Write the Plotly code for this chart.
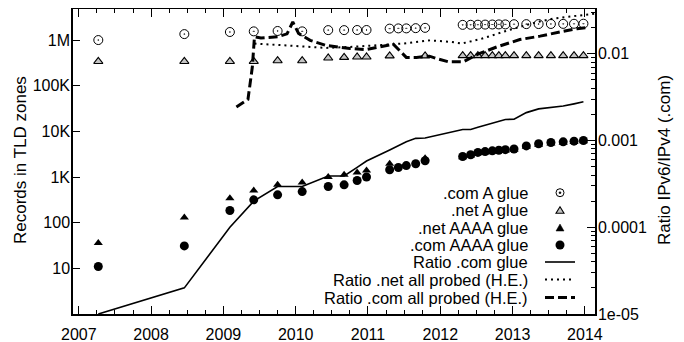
import plotly.graph_objects as go

# ---------------- data ----------------
d_com = [2007.27, 2008.46, 2009.09, 2009.42, 2009.75, 2010.09, 2010.45, 2010.67, 2010.85, 2010.98,
         2011.30, 2011.42, 2011.53, 2011.66, 2011.79, 2012.31, 2012.42, 2012.52, 2012.62, 2012.72,
         2012.81, 2012.90, 2013.02, 2013.19, 2013.36, 2013.53, 2013.70, 2013.85, 2013.98]
com_a_glue = [1.0e6, 1.35e6, 1.5e6, 1.55e6, 1.58e6, 1.55e6, 1.65e6, 1.65e6, 1.66e6, 1.66e6,
              1.78e6, 1.8e6, 1.8e6, 1.82e6, 1.85e6, 2.15e6, 2.16e6, 2.17e6, 2.18e6, 2.19e6,
              2.2e6, 2.2e6, 2.22e6, 2.23e6, 2.24e6, 2.25e6, 2.26e6, 2.27e6, 2.28e6]
com_aaaa_glue = [11, 31, 185, 316, 407, 480, 620, 675, 840, 1000,
                 1440, 1620, 1780, 1950, 2270, 2820, 3080, 3460, 3610, 3750,
                 3850, 3970, 4100, 4800, 5350, 5700, 5900, 6100, 6300]
ratio_com_glue = [1.0e-5, 2.0e-5, 1.0e-4, 2.0e-4, 2.95e-4, 2.95e-4, 3.9e-4, 3.9e-4, 4.9e-4, 5.8e-4,
                  7.8e-4, 8.8e-4, 9.7e-4, 1.06e-3, 1.07e-3, 1.34e-3, 1.34e-3, 1.42e-3, 1.5e-3, 1.58e-3,
                  1.66e-3, 1.75e-3, 1.76e-3, 2.1e-3, 2.32e-3, 2.42e-3, 2.5e-3, 2.65e-3, 2.8e-3]

d_net = [2007.27, 2008.46, 2009.09, 2009.42, 2009.75, 2010.09, 2010.45, 2010.67, 2010.85, 2010.98,
         2011.30, 2011.79, 2012.31, 2012.42, 2012.52, 2012.62, 2012.72, 2012.81, 2012.90, 2013.02,
         2013.19, 2013.36, 2013.53, 2013.70, 2013.85, 2013.98]
net_a_glue = [340e3, 340e3, 340e3, 340e3, 353e3, 353e3, 405e3, 418e3, 425e3, 425e3,
              450e3, 450e3, 455e3, 455e3, 455e3, 455e3, 455e3, 455e3, 455e3, 455e3,
              455e3, 455e3, 455e3, 455e3, 455e3, 455e3]
net_aaaa_glue = [36, 130, 345, 505, 675, 760, 1000, 1120, 1250, 1390,
                 1950, 2580, 2700, 2950, 3300, 3450, 3600, 3700, 3800, 3950,
                 4600, 5100, 5450, 5650, 5850, 6050]

d_he_net = [2009.43, 2009.82, 2010.15, 2010.42, 2010.75, 2011.05, 2011.35, 2011.49, 2011.86,
            2012.16, 2012.30, 2012.58, 2012.94, 2013.27, 2013.56, 2013.93, 2014.15]
ratio_net_he = [1.315e-2, 1.256e-2, 1.20e-2, 1.17e-2, 1.20e-2, 1.25e-2, 1.29e-2, 1.315e-2, 1.43e-2,
                1.37e-2, 1.315e-2, 1.50e-2, 1.87e-2, 2.25e-2, 2.55e-2, 2.79e-2, 2.91e-2]

d_he_com = [2009.18, 2009.34, 2009.40, 2009.43, 2009.52, 2009.75, 2009.88, 2009.96, 2010.04, 2010.20,
            2010.42, 2010.75, 2010.98, 2011.21, 2011.35, 2011.53, 2011.67, 2011.85, 2011.95, 2012.11,
            2012.32, 2012.52, 2012.78, 2013.10, 2013.38, 2013.66, 2013.89, 2014.03]
ratio_com_he = [2.44e-3, 2.98e-3, 7.0e-3, 1.57e-2, 1.52e-2, 1.57e-2, 1.70e-2, 2.33e-2, 1.72e-2, 1.43e-2,
                1.25e-2, 1.15e-2, 1.12e-2, 1.22e-2, 1.29e-2, 9.1e-3, 9.1e-3, 9.4e-3, 8.8e-3, 8.1e-3,
                8.1e-3, 9.9e-3, 1.20e-2, 1.46e-2, 1.60e-2, 1.79e-2, 1.95e-2, 2.01e-2]

year_ticks = [2007, 2008, 2009, 2010, 2011, 2012, 2013, 2014]
left_tickvals = [10, 100, 1e3, 1e4, 1e5, 1e6]
left_ticktext = ["10", "100", "1K", "10K", "100K", "1M"]
right_tickvals = [1e-5, 1e-4, 1e-3, 1e-2]
right_ticktext = ["1e-05", "0.0001", "0.001", "0.01"]
legend_labels = [".com A glue", ".net A glue", ".net AAAA glue", ".com AAAA glue",
                 "Ratio .com glue", "Ratio .net all probed (H.E.)", "Ratio .com all probed (H.E.)"]

# ---------------- figure ----------------
FONT = "Liberation Sans, Arial, Helvetica, sans-serif"
fig = go.Figure()

fig.add_trace(go.Scatter(x=d_com, y=com_a_glue, mode="markers", name=legend_labels[0],
                         marker=dict(symbol="circle-open-dot", size=9, color="black", line=dict(width=1))))
fig.add_trace(go.Scatter(x=d_net, y=net_a_glue, mode="markers", name=legend_labels[1],
                         marker=dict(symbol="triangle-up", size=8, color="#c4c4c4",
                                     line=dict(width=1.1, color="black"))))
fig.add_trace(go.Scatter(x=d_net, y=net_aaaa_glue, mode="markers", name=legend_labels[2],
                         marker=dict(symbol="triangle-up", size=8, color="black", line=dict(width=0))))
fig.add_trace(go.Scatter(x=d_com, y=com_aaaa_glue, mode="markers", name=legend_labels[3],
                         marker=dict(symbol="circle", size=9, color="black", line=dict(width=0))))
fig.add_trace(go.Scatter(x=d_com, y=ratio_com_glue, mode="lines", name=legend_labels[4], yaxis="y2",
                         line=dict(color="black", width=1.6)))
fig.add_trace(go.Scatter(x=d_he_net, y=ratio_net_he, mode="lines", name=legend_labels[5], yaxis="y2",
                         line=dict(color="black", width=2, dash="2px,4px")))
fig.add_trace(go.Scatter(x=d_he_com, y=ratio_com_he, mode="lines", name=legend_labels[6], yaxis="y2",
                         line=dict(color="black", width=3, dash="9px,4px")))

# The page has an 8px body margin: the figure is drawn at page offset (8, 8).
OFF = 8
FW, FH = 684 - OFF, 342 - OFF
L, R, T, B = 73 - OFF, 595 - OFF, 1, 314 - OFF      # plot area in figure pixels
W, H = R - L, B - T
def px(xpage):
    return (xpage - OFF - L) / W
def py(ypage):
    return (B - (ypage - OFF)) / H

shapes = []
annotations = []
rows = [192.7, 210.3, 227.5, 245, 262, 279.5, 297.5]
text_right = px(529)
sym_x = px(560)
for i, (lab, ry) in enumerate(zip(legend_labels, rows)):
    annotations.append(dict(text=lab, x=text_right, y=py(ry), xref="paper", yref="paper",
                            xanchor="right", yanchor="middle", showarrow=False, borderpad=0,
                            font=dict(family=FONT, size=16.5, color="black")))
    base = dict(xref="paper", yref="paper", xsizemode="pixel", ysizemode="pixel",
                xanchor=sym_x, yanchor=py(ry))
    if i == 0:
        shapes.append(dict(type="circle", x0=-4, x1=4, y0=-4, y1=4,
                           line=dict(color="black", width=1), **base))
        shapes.append(dict(type="circle", x0=-1, x1=1, y0=-1, y1=1, fillcolor="black",
                           line=dict(color="black", width=0.5), **base))
    elif i == 1:
        shapes.append(dict(type="path", path="M -4 -3 L 4 -3 L 0 3.5 Z", fillcolor="#c4c4c4",
                           line=dict(color="black", width=1.1), **base))
    elif i == 2:
        shapes.append(dict(type="path", path="M -4 -3.5 L 4 -3.5 L 0 3.5 Z", fillcolor="black",
                           line=dict(color="black", width=0.5), **base))
    elif i == 3:
        shapes.append(dict(type="circle", x0=-4.5, x1=4.5, y0=-4.5, y1=4.5, fillcolor="black",
                           line=dict(color="black", width=0), **base))
    else:
        dash = {4: "solid", 5: "2px,4px", 6: "9px,4px"}[i]
        width = {4: 1.6, 5: 2, 6: 3}[i]
        shapes.append(dict(type="line", x0=-15, x1=15, y0=0, y1=0,
                           line=dict(color="black", width=width, dash=dash), **base))

annotations.append(dict(text="Records in TLD zones", x=px(21), y=py(160), xref="paper", yref="paper",
                        textangle=-90, showarrow=False, xanchor="center", yanchor="middle",
                        font=dict(family=FONT, size=17, color="black")))
annotations.append(dict(text="Ratio IPv6/IPv4 (.com)", x=px(665), y=py(160), xref="paper", yref="paper",
                        textangle=-90, showarrow=False, xanchor="center", yanchor="middle",
                        font=dict(family=FONT, size=17, color="black")))

right_minor = [m * 10 ** e for e in (-5, -4, -3, -2) for m in range(2, 10) if m * 10 ** e < 0.034]

fig.update_layout(
    width=FW, height=FH,
    margin=dict(l=L, r=FW - R, t=T, b=FH - B, autoexpand=False),
    paper_bgcolor="white", plot_bgcolor="white",
    showlegend=False,
    font=dict(family=FONT, size=16, color="black"),
    shapes=shapes, annotations=annotations,
    xaxis=dict(range=[2006.92, 2014.14], tickmode="array", tickvals=year_ticks,
               ticktext=[str(y) for y in year_ticks], automargin=False,
               ticks="inside", ticklen=8, tickwidth=1, tickcolor="black",
               showline=True, linecolor="black", linewidth=1.5, mirror="ticks",
               showgrid=False, zeroline=False, ticklabelstandoff=5,
               minor=dict(tick0=2007, dtick=0.25, ticks="inside", ticklen=4,
                          tickcolor="black", showgrid=False),
               tickfont=dict(size=16)),
    yaxis=dict(type="log", range=[0, 6.68], tickmode="array", tickvals=left_tickvals,
               ticktext=left_ticktext, ticks="inside", ticklen=7, tickcolor="black", automargin=False,
               showline=True, linecolor="black", linewidth=1.5, showgrid=False, zeroline=False,
               ticklabelstandoff=-2, tickfont=dict(size=16)),
    yaxis2=dict(type="log", range=[-5, -1.483], overlaying="y", side="right", anchor="x",
                tickmode="array", tickvals=right_tickvals, ticktext=right_ticktext, automargin=False,
                ticks="inside", ticklen=8, tickcolor="black",
                showline=True, linecolor="black", linewidth=1.5, showgrid=False, zeroline=False,
                ticklabelstandoff=-2,
                minor=dict(tickmode="array", tickvals=right_minor, ticks="inside", ticklen=4,
                           tickcolor="black", showgrid=False),
                tickfont=dict(size=16)),
)

fig.write_html("out.html")
